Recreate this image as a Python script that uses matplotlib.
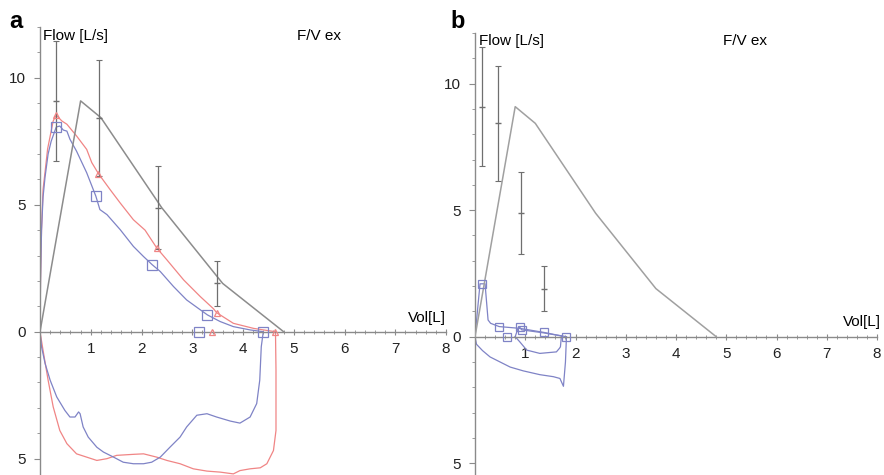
import matplotlib
matplotlib.use("Agg")
import matplotlib.pyplot as plt
from matplotlib.ticker import MultipleLocator, FixedLocator, FuncFormatter

plt.rcParams['font.family'] = ['Liberation Sans', 'DejaVu Sans']

# ---------------- data ----------------
# predicted flow-volume line (same in both panels)
pred_vol = [0, 0.8, 1.2, 2.4, 3.6, 4.8]
pred_flow = [0, 9.09, 8.43, 4.88, 1.90, 0]

# predicted ranges (error bars): centre, low, high
eb_mid = [9.09, 8.43, 4.88, 1.90]
eb_lo = [6.73, 6.15, 3.25, 1.00]
eb_hi = [11.45, 10.70, 6.52, 2.78]
eb_a_vol = [0.32, 1.16, 2.32, 3.48]
eb_b_vol = [0.146, 0.46, 0.91, 1.37]

# panel a, blue loop
blue_ex_vol = [0, 0.01, 0.03, 0.06, 0.1, 0.16, 0.22, 0.32, 0.39, 0.46, 0.53, 0.59, 0.72, 0.92,
               1.10, 1.18, 1.32, 1.58, 1.84, 2.04, 2.21, 2.37, 2.63, 2.89, 3.16, 3.30, 3.55,
               3.81, 4.14, 4.40]
blue_ex_flow = [0, 2.0, 4.0, 5.3, 6.1, 7.0, 7.5, 8.06, 8.1, 7.94, 7.9, 7.58, 7.11, 6.26,
                5.34, 4.81, 4.61, 4.02, 3.36, 2.96, 2.64, 2.37, 1.78, 1.25, 0.86, 0.66, 0.40,
                0.20, 0.07, 0]
blue_in_vol = [4.40, 4.36, 4.33, 4.27, 4.14, 3.94, 3.75, 3.48, 3.29, 3.09, 2.89, 2.76, 2.56,
               2.37, 2.20, 2.04, 1.84, 1.64, 1.45, 1.25, 1.12, 0.95, 0.85, 0.79, 0.76, 0.69,
               0.59, 0.49, 0.33, 0.20, 0.10, 0.03, 0]
blue_in_flow = [0, -0.59, -1.91, -2.83, -3.36, -3.60, -3.52, -3.36, -3.23, -3.29, -3.75, -4.15,
                -4.55, -4.94, -5.14, -5.20, -5.20, -5.14, -4.94, -4.74, -4.55, -4.15, -3.75,
                -3.23, -3.16, -3.36, -3.36, -3.10, -2.57, -1.91, -1.25, -0.59, 0]
blue_mk_vol = [0.32, 1.10, 2.21, 3.30, 4.40, 3.14]
blue_mk_flow = [8.06, 5.34, 2.64, 0.66, 0, 0]

# panel a, red loop
red_ex_vol = [0, 0.01, 0.03, 0.06, 0.1, 0.15, 0.2, 0.26, 0.32, 0.43, 0.53, 0.72, 0.92, 1.02,
              1.15, 1.38, 1.58, 1.84, 2.07, 2.30, 2.50, 2.83, 3.16, 3.42, 3.48, 3.81, 4.21,
              4.47, 4.64]
red_ex_flow = [0, 2.0, 4.0, 5.6, 6.3, 7.2, 7.7, 8.3, 8.53, 8.3, 8.17, 7.71, 7.18, 6.66,
               6.23, 5.6, 5.07, 4.41, 4.0, 3.3, 2.83, 2.04, 1.38, 0.9, 0.75, 0.33, 0.13,
               0.05, 0]
red_in_vol = [4.64, 4.65, 4.65, 4.60, 4.47, 4.34, 4.14, 3.94, 3.81, 3.55, 3.29, 3.02, 2.76,
              2.50, 2.30, 2.04, 1.84, 1.51, 1.32, 1.12, 0.92, 0.72, 0.53, 0.39, 0.26, 0.16,
              0.07, 0]
red_in_flow = [0, -1.5, -3.89, -4.68, -5.2, -5.36, -5.4, -5.47, -5.6, -5.53, -5.49, -5.4, -5.2,
               -5.07, -4.94, -4.81, -4.83, -4.87, -5.0, -5.07, -4.94, -4.81, -4.41, -3.89,
               -2.96, -1.91, -0.85, 0]
red_mk_vol = [0.32, 1.15, 2.30, 3.48, 4.64, 3.39]
red_mk_flow = [8.53, 6.23, 3.30, 0.75, 0, 0]

# panel b, blue loops
b1_ex_vol = [0, 0.10, 0.20, 0.26, 0.31, 0.48, 0.89, 1.37, 1.62, 1.82]
b1_ex_flow = [0, 2.09, 2.09, 0.66, 0.53, 0.40, 0.33, 0.17, 0.07, 0]
b1_in_vol = [1.82, 1.80, 1.76, 1.69, 1.56, 1.29, 0.96, 0.70, 0.45, 0.30, 0.15, 0.03, 0]
b1_in_flow = [0, -1.0, -1.96, -1.65, -1.58, -1.50, -1.35, -1.20, -0.95, -0.80, -0.55, -0.30, 0]
b2_ex_vol = [0.80, 0.85, 0.89, 0.93, 1.37, 1.72]
b2_ex_flow = [0, 0.30, 0.37, 0.27, 0.15, 0.03]
b2_in_vol = [1.72, 1.70, 1.68, 1.62, 1.29, 1.03, 0.89, 0.80]
b2_in_flow = [0.03, -0.40, -0.46, -0.60, -0.66, -0.53, -0.20, 0]
b_mk_vol = [0.146, 0.48, 0.63, 0.89, 0.93, 1.37, 1.82]
b_mk_flow = [2.09, 0.40, 0, 0.37, 0.27, 0.17, 0]

x_ticks = [1, 2, 3, 4, 5, 6, 7, 8]
y_ticks = [-5, 0, 5, 10]

# ---------------- style ----------------
GRAY = '#8c8c8c'
EBC = '#6f6f6f'
BLUE = '#7f83c6'
RED = '#f08585'
AX = '#8a8a8a'
LW = 0.9

W, H = 884, 475
fig = plt.figure(figsize=(W / 100, H / 100), dpi=100)


def px_axes(x0, x1, ytop_px, y0_px, ymax):
    scale = (y0_px - ytop_px) / ymax
    ymin = -(H - y0_px) / scale
    ax = fig.add_axes([x0 / W, 0, (x1 - x0) / W, 1 - ytop_px / H])
    ax.set_xlim(0, 8)
    ax.set_ylim(ymin, ymax)
    return ax


def style(ax):
    for s in ['top', 'right']:
        ax.spines[s].set_visible(False)
    ax.spines['bottom'].set_position(('data', 0))
    ax.spines['left'].set_position(('data', 0))
    for s in ['bottom', 'left']:
        ax.spines[s].set_color(AX)
        ax.spines[s].set_linewidth(1.0)
    ax.xaxis.set_major_locator(FixedLocator(x_ticks))
    ax.xaxis.set_minor_locator(MultipleLocator(0.2))
    ax.yaxis.set_major_locator(FixedLocator(y_ticks))
    ax.yaxis.set_minor_locator(MultipleLocator(1))
    ax.yaxis.set_major_formatter(FuncFormatter(lambda v, p: '%d' % abs(v)))
    ax.tick_params(axis='x', which='major', direction='inout', length=5, width=0.8,
                   color=AX, labelsize=11, pad=5, labelcolor='#222222')
    ax.tick_params(axis='x', which='minor', direction='inout', length=3.5, width=0.6, color=AX)
    ax.tick_params(axis='y', which='major', direction='out', length=4, width=0.8,
                   color=AX, labelsize=11, pad=6, labelcolor='#222222')
    ax.tick_params(axis='y', which='minor', direction='out', length=2.5, width=0.6, color=AX)
    ax.patch.set_alpha(0)


def errbars(ax, vol):
    lo = [m - l for m, l in zip(eb_mid, eb_lo)]
    hi = [h - m for m, h in zip(eb_mid, eb_hi)]
    ax.errorbar(vol, eb_mid, yerr=[lo, hi], fmt='_', color=EBC, ecolor=EBC,
                elinewidth=0.9, capsize=2.2, capthick=0.8, markersize=4, zorder=4)


# panel a
axa = px_axes(40, 446, 27, 331.7, 12)
style(axa)
axa.plot(pred_vol, pred_flow, color=GRAY, lw=1.1, zorder=3)
errbars(axa, eb_a_vol)
axa.plot(red_ex_vol, red_ex_flow, color=RED, lw=LW, zorder=2)
axa.plot(red_in_vol, red_in_flow, color=RED, lw=LW, zorder=2)
axa.plot(blue_ex_vol, blue_ex_flow, color=BLUE, lw=LW, zorder=2)
axa.plot(blue_in_vol, blue_in_flow, color=BLUE, lw=LW, zorder=2)
axa.plot(red_mk_vol, red_mk_flow, ls='none', marker='^', ms=5, mfc='none', mec=RED,
         mew=0.9, zorder=5)
axa.plot(blue_mk_vol, blue_mk_flow, ls='none', marker='s', ms=6.5, mfc='none', mec=BLUE,
         mew=0.9, zorder=5)

# panel b
axb = px_axes(475, 877, 33, 336.7, 12)
style(axb)
axb.plot(pred_vol, pred_flow, color='#a0a0a0', lw=1.1, zorder=3)
errbars(axb, eb_b_vol)
axb.plot(b1_ex_vol, b1_ex_flow, color=BLUE, lw=LW, zorder=2)
axb.plot(b1_in_vol, b1_in_flow, color=BLUE, lw=LW, zorder=2)
axb.plot(b2_ex_vol, b2_ex_flow, color=BLUE, lw=LW, zorder=2)
axb.plot(b2_in_vol, b2_in_flow, color=BLUE, lw=LW, zorder=2)
axb.plot(b_mk_vol, b_mk_flow, ls='none', marker='s', ms=6, mfc='none', mec=BLUE,
         mew=0.9, zorder=5)

# texts
def ftext(x, y, s, **kw):
    fig.text(x / W, 1 - y / H, s, **kw)

ftext(9, 22, 'a', fontsize=17, fontweight='bold', va='center', ha='left')
ftext(450, 22, 'b', fontsize=17, fontweight='bold', va='center', ha='left')
ftext(43, 36, 'Flow [L/s]', fontsize=11, va='center', ha='left')
ftext(479, 41, 'Flow [L/s]', fontsize=11, va='center', ha='left')
ftext(297, 36, 'F/V ex', fontsize=11, va='center', ha='left')
ftext(723, 41, 'F/V ex', fontsize=11, va='center', ha='left')
ftext(446, 318, 'Vol[L]', fontsize=11, va='center', ha='right')
ftext(881, 322, 'Vol[L]', fontsize=11, va='center', ha='right')

fig.savefig('out.png', dpi=100)
